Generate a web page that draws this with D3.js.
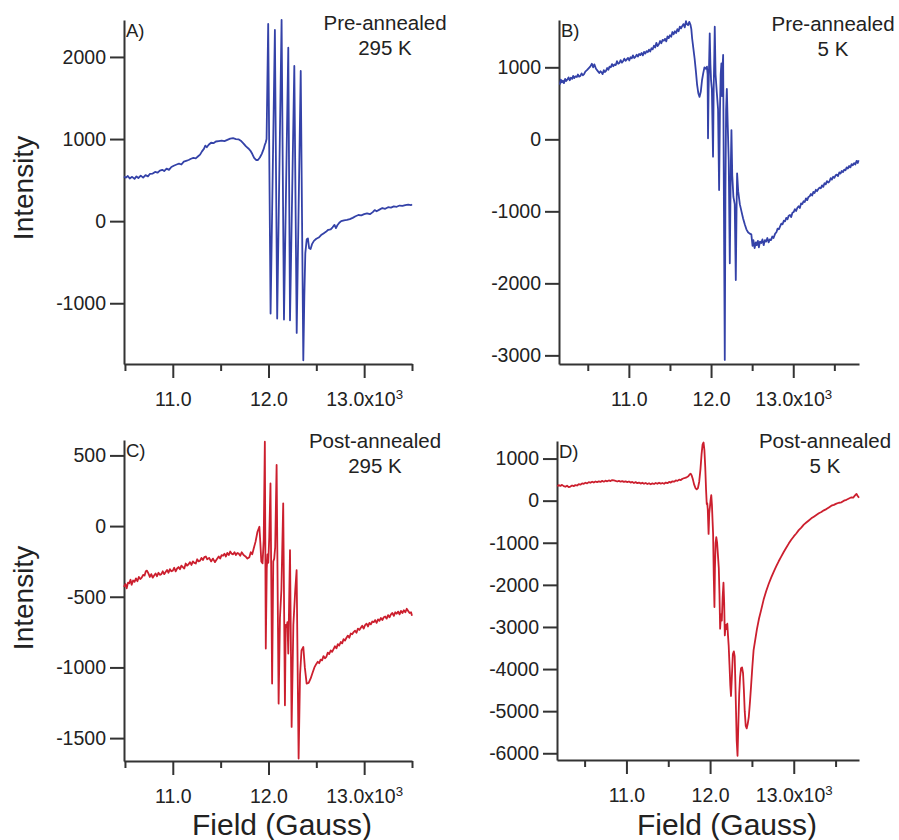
<!DOCTYPE html>
<html>
<head>
<meta charset="utf-8">
<script src="https://cdn.jsdelivr.net/npm/d3@7"></script>
<style>
  body { margin: 0; background: #fff; }
  svg text { font-family: "Liberation Sans", Arial, Helvetica, sans-serif; fill: #222; }
  .axis path, .axis line { stroke: #333; stroke-width: 2; }
</style>
</head>
<body>
<div id="chart"></div>
<script>
// x axis (field, gauss)
const fieldTicks = [11000, 12000, 13000];
const fieldMinorTicks = [10500, 11500, 12500, 13500];
const fieldTickLabels = ['11.0', '12.0', '13.0x10'];

// y axis ticks per panel
const ticksA = [-1000, 0, 1000, 2000];
const ticksB = [-3000, -2000, -1000, 0, 1000];
const ticksC = [-1500, -1000, -500, 0, 500];
const ticksD = [-6000, -5000, -4000, -3000, -2000, -1000, 0, 1000];

// spectra: [field, intensity]
const preAnnealed295 = [
  [10490, 545], [10510, 530], [10530, 550], [10550, 520], [10575, 540], [10600, 515], [10620, 545], [10640, 525],
  [10665, 555], [10690, 530], [10715, 560], [10740, 545], [10760, 575], [10790, 580], [10815, 600], [10840, 590],
  [10865, 615], [10890, 625], [10910, 610], [10935, 640], [10960, 625], [10985, 660], [11010, 675], [11040, 690],
  [11065, 700], [11090, 690], [11115, 725], [11140, 735], [11165, 745], [11190, 760], [11215, 770], [11240, 765],
  [11265, 790], [11285, 810], [11305, 850], [11325, 880], [11340, 920], [11355, 900], [11375, 930], [11400, 955],
  [11425, 950], [11450, 970], [11480, 975], [11510, 980], [11540, 975], [11570, 990], [11600, 1005], [11630, 1010],
  [11660, 1000], [11690, 995], [11715, 975], [11740, 945], [11765, 910], [11790, 885], [11810, 860], [11830, 820],
  [11850, 770], [11870, 745], [11890, 745], [11910, 775], [11930, 820], [11950, 880], [11962, 930], [11972, 960],
  [11980, 1000], [11997, 2402], [12022, -1126], [12067, 2329], [12091, -1187], [12137, 2451], [12162, -1199],
  [12207, 2113], [12225, -1207], [12270, 1890], [12295, -1362], [12337, 1829], [12364, -1695], [12375, -900],
  [12385, -390], [12400, -220], [12412, -210], [12425, -330], [12440, -340], [12455, -280], [12475, -240],
  [12500, -215], [12525, -200], [12550, -170], [12575, -150], [12600, -130], [12625, -105], [12650, -100],
  [12670, -75], [12690, -45], [12705, -85], [12720, -50], [12740, -20], [12760, 0], [12790, 10], [12820, 15],
  [12850, 25], [12880, 40], [12910, 60], [12940, 75], [12970, 70], [13000, 85], [13030, 95], [13060, 85],
  [13090, 110], [13110, 135], [13130, 120], [13160, 140], [13190, 160], [13220, 150], [13250, 170], [13280, 165],
  [13310, 180], [13340, 175], [13370, 190], [13400, 185], [13430, 195], [13460, 200], [13490, 195], [13500, 205]
];

const preAnnealed5 = [
  [10160, 760], [10172, 830], [10185, 790], [10197, 815], [10210, 780], [10225, 840], [10238, 810], [10252, 830],
  [10266, 860], [10280, 820], [10295, 855], [10310, 840], [10322, 880], [10336, 850], [10350, 875], [10366, 865],
  [10380, 900], [10394, 870], [10410, 880], [10425, 915], [10440, 890], [10455, 905], [10470, 940], [10490, 960],
  [10510, 985], [10530, 1010], [10550, 1050], [10565, 1000], [10580, 1040], [10600, 980], [10620, 950],
  [10640, 920], [10655, 945], [10668, 930], [10680, 905], [10695, 960], [10708, 935], [10722, 950], [10736, 990],
  [10750, 965], [10765, 1010], [10780, 1000], [10795, 1045], [10810, 1015], [10825, 1040], [10840, 1030],
  [10855, 1085], [10870, 1050], [10885, 1060], [10900, 1100], [10915, 1065], [10930, 1085], [10945, 1120],
  [10960, 1090], [10975, 1110], [10990, 1130], [11005, 1095], [11020, 1140], [11035, 1125], [11050, 1165],
  [11065, 1130], [11080, 1145], [11095, 1175], [11110, 1150], [11125, 1185], [11140, 1170], [11155, 1200],
  [11170, 1165], [11185, 1215], [11200, 1190], [11215, 1225], [11230, 1210], [11245, 1245], [11260, 1220],
  [11275, 1265], [11290, 1250], [11305, 1300], [11320, 1275], [11335, 1340], [11350, 1295], [11365, 1320],
  [11380, 1365], [11395, 1335], [11410, 1380], [11425, 1370], [11440, 1395], [11455, 1360], [11470, 1430],
  [11485, 1405], [11500, 1445], [11515, 1425], [11530, 1490], [11545, 1460], [11560, 1500], [11575, 1475],
  [11590, 1530], [11605, 1500], [11620, 1565], [11635, 1540], [11650, 1575], [11665, 1600], [11680, 1555],
  [11695, 1640], [11705, 1600], [11720, 1585], [11735, 1630], [11750, 1590], [11760, 1530], [11770, 1400],
  [11785, 1260], [11800, 1120], [11815, 950], [11830, 760], [11845, 640], [11860, 590], [11875, 660],
  [11890, 820], [11905, 920], [11920, 1000], [11935, 980], [11950, 1010], [11958, 900], [11963, 14], [11970, 700],
  [11977, 1100], [11984, 1472], [11992, 1050], [12000, 820], [12010, 700], [12024, -241], [12032, 700],
  [12040, 1200], [12045, 1564], [12055, 900], [12070, 650], [12085, 420], [12098, -704], [12108, 380],
  [12117, 900], [12126, 1056], [12134, 600], [12140, 1000], [12147, 1171], [12157, -1000], [12167, -3064],
  [12175, -700], [12183, 400], [12192, 700], [12203, 200], [12215, -300], [12228, -1722], [12240, -400],
  [12248, 129], [12258, -500], [12272, -800], [12288, -900], [12301, -1954], [12310, -1000], [12317, -472],
  [12330, -720], [12350, -900], [12370, -1000], [12390, -1100], [12410, -1180], [12430, -1250], [12450, -1290],
  [12470, -1310], [12490, -1320], [12505, -1480], [12515, -1400], [12530, -1510], [12545, -1430], [12555, -1470],
  [12570, -1410], [12582, -1500], [12595, -1420], [12610, -1440], [12625, -1390], [12640, -1470], [12655, -1400],
  [12670, -1420], [12685, -1370], [12700, -1430], [12715, -1390], [12730, -1400], [12745, -1350], [12760, -1370],
  [12780, -1310], [12795, -1290], [12810, -1240], [12825, -1250], [12840, -1210], [12855, -1170], [12870, -1180],
  [12885, -1130], [12900, -1140], [12915, -1090], [12930, -1110], [12945, -1060], [12960, -1050], [12975, -1080],
  [12990, -1020], [13005, -1010], [13020, -970], [13035, -995], [13050, -950], [13065, -930], [13080, -955],
  [13095, -890], [13110, -900], [13125, -860], [13140, -870], [13155, -820], [13170, -845], [13185, -800],
  [13200, -790], [13215, -760], [13230, -780], [13245, -730], [13260, -745], [13275, -700], [13290, -720],
  [13305, -690], [13320, -670], [13335, -680], [13350, -640], [13365, -660], [13380, -610], [13395, -625],
  [13410, -580], [13425, -600], [13440, -585], [13455, -540], [13470, -560], [13485, -520], [13500, -535],
  [13515, -500], [13530, -490], [13545, -510], [13560, -460], [13575, -475], [13590, -440], [13605, -455],
  [13620, -420], [13635, -430], [13650, -390], [13665, -405], [13680, -370], [13695, -390], [13710, -345],
  [13725, -360], [13740, -330], [13755, -350], [13770, -300], [13785, -330], [13795, -290]
];

const postAnnealed295 = [
  [10490, -430], [10505, -410], [10518, -440], [10532, -400], [10545, -405], [10558, -380], [10570, -415],
  [10585, -385], [10600, -395], [10615, -370], [10630, -390], [10645, -360], [10660, -375], [10675, -365],
  [10690, -345], [10705, -350], [10718, -320], [10730, -315], [10745, -335], [10760, -360], [10775, -340],
  [10790, -365], [10805, -350], [10820, -335], [10835, -355], [10850, -330], [10865, -345], [10880, -340],
  [10895, -320], [10910, -340], [10925, -325], [10940, -310], [10955, -330], [10970, -305], [10985, -320],
  [11000, -315], [11015, -295], [11030, -320], [11045, -300], [11060, -290], [11075, -305], [11090, -280],
  [11105, -290], [11120, -300], [11135, -265], [11150, -280], [11165, -270], [11180, -255], [11195, -275],
  [11210, -250], [11225, -260], [11240, -265], [11255, -235], [11270, -250], [11285, -245], [11300, -225],
  [11315, -240], [11330, -220], [11345, -215], [11360, -235], [11380, -225], [11400, -250], [11420, -230],
  [11440, -255], [11460, -235], [11480, -215], [11495, -230], [11510, -205], [11525, -210], [11540, -195],
  [11555, -215], [11570, -190], [11585, -205], [11600, -180], [11615, -195], [11630, -200], [11645, -185],
  [11660, -205], [11675, -190], [11690, -195], [11705, -210], [11720, -185], [11740, -205], [11760, -215],
  [11780, -230], [11800, -220], [11815, -185], [11830, -200], [11845, -160], [11865, -110], [11885, -40],
  [11905, -5], [11915, -120], [11925, -250], [11938, -264], [11950, -100], [11962, 597], [11972, -866],
  [11982, -300], [11990, -200], [11998, -260], [12008, -80], [12021, 302], [12038, -1114], [12050, -250],
  [12060, -230], [12070, -150], [12085, 432], [12106, -1256], [12120, -650], [12135, -450], [12154, 161],
  [12172, -1268], [12180, -700], [12190, -713], [12198, -680], [12207, -902], [12225, -170], [12242, -1421],
  [12260, -700], [12280, -450], [12294, -312], [12315, -1645], [12330, -1050], [12345, -880], [12364, -855],
  [12380, -1000], [12399, -1114], [12420, -1110], [12440, -1080], [12460, -1040], [12480, -1000], [12500, -975],
  [12515, -960], [12530, -970], [12545, -945], [12560, -950], [12575, -920], [12590, -935], [12605, -925],
  [12620, -895], [12635, -905], [12650, -880], [12665, -890], [12680, -870], [12695, -850], [12710, -865],
  [12725, -835], [12740, -845], [12755, -820], [12770, -830], [12785, -800], [12800, -810], [12815, -790],
  [12830, -775], [12845, -790], [12860, -760], [12875, -765], [12890, -750], [12905, -740], [12920, -755],
  [12935, -725], [12950, -735], [12965, -720], [12980, -705], [12995, -725], [13010, -700], [13025, -690],
  [13040, -710], [13055, -685], [13070, -695], [13085, -675], [13100, -680], [13115, -665], [13130, -685],
  [13145, -660], [13160, -670], [13175, -650], [13190, -665], [13205, -645], [13220, -640], [13235, -655],
  [13250, -630], [13265, -645], [13280, -625], [13295, -615], [13310, -635], [13325, -610], [13340, -620],
  [13355, -605], [13370, -625], [13385, -600], [13400, -615], [13415, -595], [13430, -610], [13445, -585],
  [13460, -600], [13475, -615], [13490, -610], [13500, -635]
];

const postAnnealed5 = [
  [10175, 340], [10190, 370], [10210, 350], [10230, 375], [10250, 345], [10270, 330], [10290, 355], [10310, 320],
  [10330, 335], [10350, 360], [10370, 345], [10390, 370], [10410, 360], [10430, 390], [10450, 380], [10470, 410],
  [10490, 400], [10510, 425], [10530, 410], [10550, 440], [10570, 425], [10590, 450], [10610, 430], [10630, 455],
  [10650, 440], [10670, 460], [10690, 445], [10710, 470], [10730, 450], [10750, 475], [10770, 460], [10790, 480],
  [10810, 465], [10830, 490], [10850, 480], [10870, 470], [10890, 455], [10910, 470], [10930, 450], [10950, 465],
  [10970, 445], [10990, 460], [11010, 440], [11030, 455], [11050, 430], [11070, 445], [11090, 420], [11110, 440],
  [11130, 415], [11150, 430], [11170, 405], [11190, 425], [11210, 400], [11230, 420], [11250, 395], [11270, 415],
  [11290, 390], [11310, 410], [11330, 395], [11350, 420], [11370, 400], [11390, 425], [11410, 405], [11430, 420],
  [11450, 400], [11470, 430], [11490, 415], [11510, 445], [11530, 430], [11550, 460], [11570, 450], [11590, 480],
  [11610, 470], [11630, 500], [11650, 490], [11670, 520], [11700, 540], [11720, 555], [11740, 580], [11755, 620],
  [11768, 640], [11780, 600], [11795, 500], [11810, 380], [11825, 300], [11840, 270], [11855, 300], [11870, 450],
  [11885, 750], [11898, 1100], [11910, 1330], [11922, 1382], [11932, 1200], [11942, 800], [11952, 250],
  [11960, -80], [11966, -60], [11972, -200], [11982, -790], [11990, -300], [11998, -150], [12006, 20],
  [12014, 130], [12022, -100], [12030, -500], [12036, -790], [12044, -1800], [12052, -2528], [12058, -1600],
  [12066, -1000], [12074, -869], [12084, -1000], [12094, -1300], [12104, -1600], [12112, -2200], [12120, -3041],
  [12130, -2700], [12140, -2850], [12150, -2300], [12160, -1950], [12168, -2400], [12176, -3200], [12186, -2950],
  [12196, -3050], [12206, -2923], [12214, -3200], [12222, -3436], [12232, -3900], [12242, -4400], [12250, -4640],
  [12260, -4200], [12272, -3650], [12284, -3580], [12294, -3700], [12302, -4300], [12310, -5000], [12318, -5700],
  [12328, -6060], [12338, -5300], [12348, -4600], [12358, -4200], [12370, -3980], [12382, -3960], [12394, -4100],
  [12404, -4500], [12414, -5000], [12426, -5350], [12438, -5410], [12450, -5300], [12462, -5150], [12476, -4800],
  [12490, -4400], [12505, -3950], [12520, -3550], [12540, -3300], [12560, -3050], [12585, -2800], [12610, -2600],
  [12640, -2350], [12670, -2150], [12700, -1980], [12730, -1830], [12760, -1690], [12790, -1560], [12820, -1440],
  [12850, -1330], [12880, -1220], [12910, -1120], [12940, -1020], [12970, -930], [13000, -850], [13030, -780],
  [13060, -700], [13090, -640], [13120, -570], [13150, -520], [13180, -470], [13210, -420], [13240, -380],
  [13270, -340], [13300, -300], [13330, -270], [13360, -230], [13390, -200], [13420, -160], [13450, -120],
  [13480, -100], [13510, -70], [13540, -50], [13570, -40], [13600, 0], [13630, 20], [13660, 50], [13690, 80],
  [13710, 70], [13730, 120], [13750, 160], [13765, 110], [13780, 70]
];

const blue = '#3442a8', red = '#cc1f2e';

const panels = [
  { tag: 'A)', data: preAnnealed295, color: blue, note: ['Pre-annealed', '295 K'], yTicks: ticksA,
    box: [124, 20, 412, 364], xDomain: [10490, 13500], yDomain: [-1740, 2450], noteX: 385, noteY: 30 },
  { tag: 'B)', data: preAnnealed5, color: blue, note: ['Pre-annealed', '5 K'], yTicks: ticksB,
    box: [559, 20, 859, 364], xDomain: [10150, 13800], yDomain: [-3120, 1657], noteX: 833, noteY: 31 },
  { tag: 'C)', data: postAnnealed295, color: red, note: ['Post-annealed', '295 K'], yTicks: ticksC,
    box: [124, 440, 412, 761], xDomain: [10490, 13500], yDomain: [-1662, 609], noteX: 375, noteY: 448 },
  { tag: 'D)', data: postAnnealed5, color: red, note: ['Post-annealed', '5 K'], yTicks: ticksD,
    box: [557, 441, 859, 760], xDomain: [10170, 13780], yDomain: [-6160, 1417], noteX: 825, noteY: 448 }
];

const svg = d3.select('#chart').append('svg')
  .attr('width', 899)
  .attr('height', 840);

panels.forEach(p => {
  const [left, top, right, bottom] = p.box;
  const x = d3.scaleLinear().domain(p.xDomain).range([left, right]);
  const y = d3.scaleLinear().domain(p.yDomain).range([bottom, top]);

  // minor x ticks
  svg.append('g')
    .attr('class', 'axis')
    .attr('transform', `translate(0,${bottom})`)
    .call(d3.axisBottom(x).tickValues(fieldMinorTicks).tickSize(7).tickSizeOuter(0).tickFormat(''))
    .call(g => g.select('.domain').remove());

  const xg = svg.append('g')
    .attr('class', 'axis')
    .attr('transform', `translate(0,${bottom})`)
    .call(d3.axisBottom(x).tickValues(fieldTicks).tickSize(14).tickSizeOuter(0).tickPadding(14)
      .tickFormat((d, i) => fieldTickLabels[i]));
  xg.selectAll('.tick text').attr('font-size', 19.5).attr('fill', '#222');
  xg.selectAll('.tick text').filter((d, i) => i === fieldTicks.length - 1)
    .append('tspan').attr('dy', '-0.5em').attr('font-size', '0.68em').text('3');

  const yg = svg.append('g')
    .attr('class', 'axis')
    .attr('transform', `translate(${left},0)`)
    .call(d3.axisLeft(y).tickValues(p.yTicks).tickSize(14).tickSizeOuter(0).tickPadding(4)
      .tickFormat(d => String(d)));
  yg.selectAll('.tick text').attr('font-size', 19.5).attr('fill', '#222');

  const line = d3.line().x(d => x(d[0])).y(d => y(d[1]));
  svg.append('path')
    .datum(p.data)
    .attr('fill', 'none')
    .attr('stroke', p.color)
    .attr('stroke-width', 1.8)
    .attr('stroke-linejoin', 'round')
    .attr('d', line);

  svg.append('text')
    .attr('x', left + 2).attr('y', top + 17)
    .attr('font-size', 18.5)
    .text(p.tag);

  svg.selectAll(null)
    .data(p.note)
    .enter()
    .append('text')
    .attr('x', p.noteX)
    .attr('y', (d, i) => p.noteY + i * 25)
    .attr('text-anchor', 'middle')
    .attr('font-size', 20.5)
    .text(d => d);
});

// axis titles
[188, 598].forEach(cy => {
  svg.append('text')
    .attr('transform', `translate(33,${cy}) rotate(-90)`)
    .attr('text-anchor', 'middle')
    .attr('font-size', 28)
    .text('Intensity');
});

[282, 727].forEach(cx => {
  svg.append('text')
    .attr('x', cx).attr('y', 835)
    .attr('text-anchor', 'middle')
    .attr('font-size', 30)
    .text('Field (Gauss)');
});
</script>
</body>
</html>
